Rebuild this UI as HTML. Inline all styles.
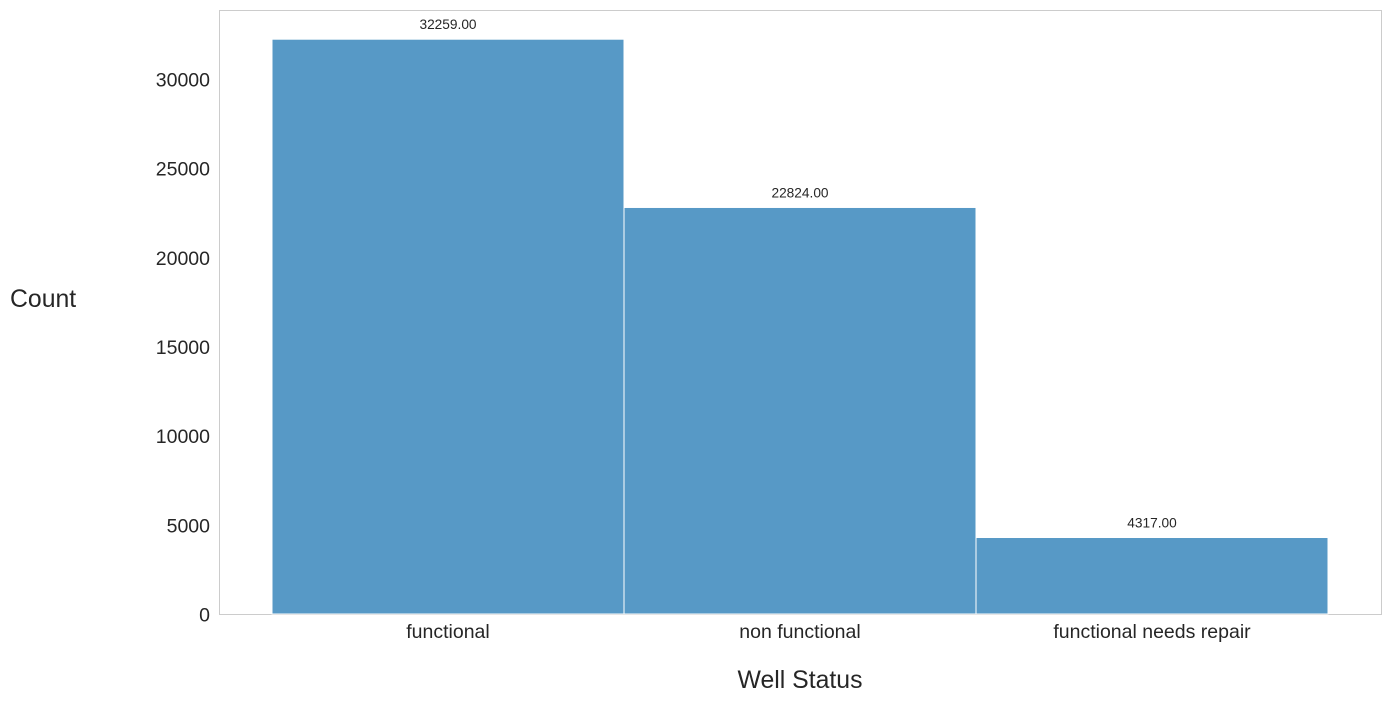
<!DOCTYPE html>
<html><head><meta charset="utf-8"><style>
html,body{margin:0;padding:0;background:#fff;}
svg{display:block;font-family:"Liberation Sans","DejaVu Sans",sans-serif;}
</style></head><body>
<svg id="chart" width="1391" height="702"></svg>
<script>
const categories = ["functional", "non functional", "functional needs repair"];
const counts = [32259, 22824, 4317];
const valueLabels = ["32259.00", "22824.00", "4317.00"];
const yTicks = [0, 5000, 10000, 15000, 20000, 25000, 30000];

const NS = "http://www.w3.org/2000/svg";
const svg = document.getElementById("chart");
const plot = {left: 219.5, right: 1381.5, top: 10.5, bottom: 614.5};
function y(v){ return plot.bottom - v * (535 / 30000); }
const barStart = 272, barW = 352;
function x(i){ return barStart + i * barW; }
function mk(tag, attrs, text){
  const el = document.createElementNS(NS, tag);
  for (const k in attrs) el.setAttribute(k, attrs[k]);
  if (text !== undefined) el.textContent = text;
  svg.appendChild(el);
  return el;
}
const frame = mk("rect", {x: plot.left, y: plot.top, width: plot.right - plot.left, height: plot.bottom - plot.top, fill: "none", stroke: "#cccccc", "stroke-width": 1});



yTicks.forEach(t => {
  const lbl = mk("text", {x: 210, y: y(t) + 7, "text-anchor": "end", "font-size": 19.5, fill: "#262626"}, String(t));
  
  
});

categories.forEach((c, i) => {
  const b = mk("rect", {x: x(i), y: y(counts[i]), width: barW, height: plot.bottom - 0.5 - y(counts[i]), fill: "#5799c6", stroke: "#ffffff", "stroke-width": 1});
  
  
  const v = mk("text", {x: x(i) + barW / 2, y: y(counts[i]) - 10, "text-anchor": "middle", "font-size": 13.7, fill: "#262626"}, valueLabels[i]);
  
  
  const xl = mk("text", {x: x(i) + barW / 2, y: 638, "text-anchor": "middle", "font-size": 19.5, fill: "#262626"}, c);
  
  
});

const xt = mk("text", {x: 800, y: 688, "text-anchor": "middle", "font-size": 24.8, fill: "#262626"}, "Well Status");


const yt = mk("text", {x: 10, y: 307, "font-size": 24.8, fill: "#262626"}, "Count");


</script>
</body></html>
